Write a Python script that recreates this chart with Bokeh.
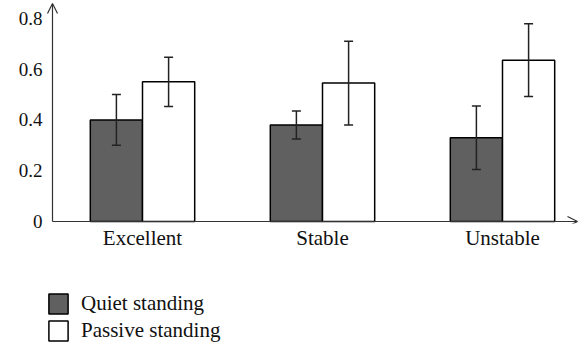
import numpy as np
from bokeh.plotting import figure
from bokeh.layouts import column
from bokeh.models import (ColumnDataSource, Whisker, Arrow, OpenHead, FixedTicker,
                          Legend, LegendItem, Range1d)
from bokeh.transform import dodge
from bokeh.embed import file_html
from bokeh.resources import INLINE

categories = ["Excellent", "Stable", "Unstable"]
quiet_mean = [0.40, 0.38, 0.33]
quiet_sd = [0.10, 0.055, 0.125]
passive_mean = [0.55, 0.545, 0.635]
passive_sd = [0.097, 0.165, 0.143]
y_ticks = [0, 0.2, 0.4, 0.6, 0.8]
legend_labels = ["Quiet standing", "Passive standing"]

xs = [i + 1 for i in range(len(categories))]
src = ColumnDataSource(dict(
    x=xs,
    q=quiet_mean,
    q_lo=[m - s for m, s in zip(quiet_mean, quiet_sd)],
    q_hi=[m + s for m, s in zip(quiet_mean, quiet_sd)],
    p=passive_mean,
    p_lo=[m - s for m, s in zip(passive_mean, passive_sd)],
    p_hi=[m + s for m, s in zip(passive_mean, passive_sd)],
))

FONT = "Liberation Serif"
QFILL = "#606060"
AX = "#333333"
# axis arrows (data units) and visible ranges
X0, X1, XR0, XR1 = 0.5, 3.4167, 0.45, 3.4556
Y0, Y1, YR0, YR1 = 0.0, 0.858, -0.0079, 0.870

p = figure(width=584, height=261, output_backend="svg", toolbar_location=None,
           x_range=Range1d(XR0, XR1), y_range=Range1d(YR0, YR1),
           min_border_left=43, min_border_right=0, min_border_top=0,
           min_border_bottom=38)
p.outline_line_color = None
p.grid.grid_line_color = None

off = 0.145
w = 0.29
bar_style = dict(line_color="black", line_width=1.5)
p.vbar(x=dodge("x", -off), top="q", width=w, source=src, fill_color=QFILL, **bar_style)
p.vbar(x=dodge("x", off), top="p", width=w, source=src, fill_color="white", **bar_style)

for lo, hi, d in (("q_lo", "q_hi", -off), ("p_lo", "p_hi", off)):
    wk = Whisker(base=dodge("x", d), lower=lo, upper=hi, source=src, level="annotation",
                 line_color="#222222", line_width=1.5)
    for h in (wk.upper_head, wk.lower_head):
        h.size = 9
        h.line_width = 1.5
        h.line_color = "#222222"
    p.add_layout(wk)

# axes (labels only; lines drawn as arrows)
p.xaxis.ticker = FixedTicker(ticks=xs)
p.xaxis.major_label_overrides = {x: c for x, c in zip(xs, categories)}
p.yaxis.ticker = FixedTicker(ticks=y_ticks)
p.yaxis.major_label_overrides = {t: ("0" if t == 0 else f"{t:.1f}") for t in y_ticks}
for ax in (p.xaxis, p.yaxis):
    ax.axis_line_color = None
    ax.major_tick_line_color = None
    ax.minor_tick_line_color = None
    ax.major_tick_out = 0
    ax.major_tick_in = 0
    ax.major_label_text_font = FONT
    ax.major_label_text_color = "#111111"
p.xaxis.major_label_text_font_size = "21px"
p.yaxis.major_label_text_font_size = "19px"
p.xaxis.major_label_standoff = 2
p.yaxis.major_label_standoff = 1

p.add_layout(Arrow(x_start=X0, y_start=Y0, x_end=X0, y_end=Y1,
                   line_color=AX, line_width=1.2,
                   end=OpenHead(size=10, line_color=AX, line_width=1.2)))
p.add_layout(Arrow(x_start=X0, y_start=Y0, x_end=X1, y_end=Y0,
                   line_color=AX, line_width=1.2,
                   end=OpenHead(size=10, line_color=AX, line_width=1.2)))

# legend panel (its frame is aligned with the main frame by the column layout)
lf = figure(width=584, height=88, output_backend="svg", toolbar_location=None,
            x_range=Range1d(0, 1), y_range=Range1d(0, 1),
            x_axis_location=None, y_axis_location=None,
            min_border_left=43, min_border_right=0, min_border_top=0, min_border_bottom=0)
lf.grid.grid_line_color = None
lf.outline_line_color = None
nodata = ColumnDataSource(dict(x=np.array([np.nan]), top=np.array([np.nan])))
lq = lf.vbar(x="x", top="top", width=0.1, source=nodata, fill_color=QFILL, **bar_style)
lp = lf.vbar(x="x", top="top", width=0.1, source=nodata, fill_color="white", **bar_style)
legend = Legend(items=[LegendItem(label=legend_labels[0], renderers=[lq]),
                       LegendItem(label=legend_labels[1], renderers=[lp])],
                location=(3, 6), orientation="vertical",
                label_text_font=FONT, label_text_font_size="21px",
                label_text_color="#111111",
                glyph_width=24, glyph_height=25, label_height=25, spacing=2,
                label_standoff=11, padding=0, margin=0,
                border_line_color=None, background_fill_alpha=0)
lf.add_layout(legend, "center")

layout = column(p, lf, spacing=0)
open("out.html", "w").write(file_html(layout, INLINE))
